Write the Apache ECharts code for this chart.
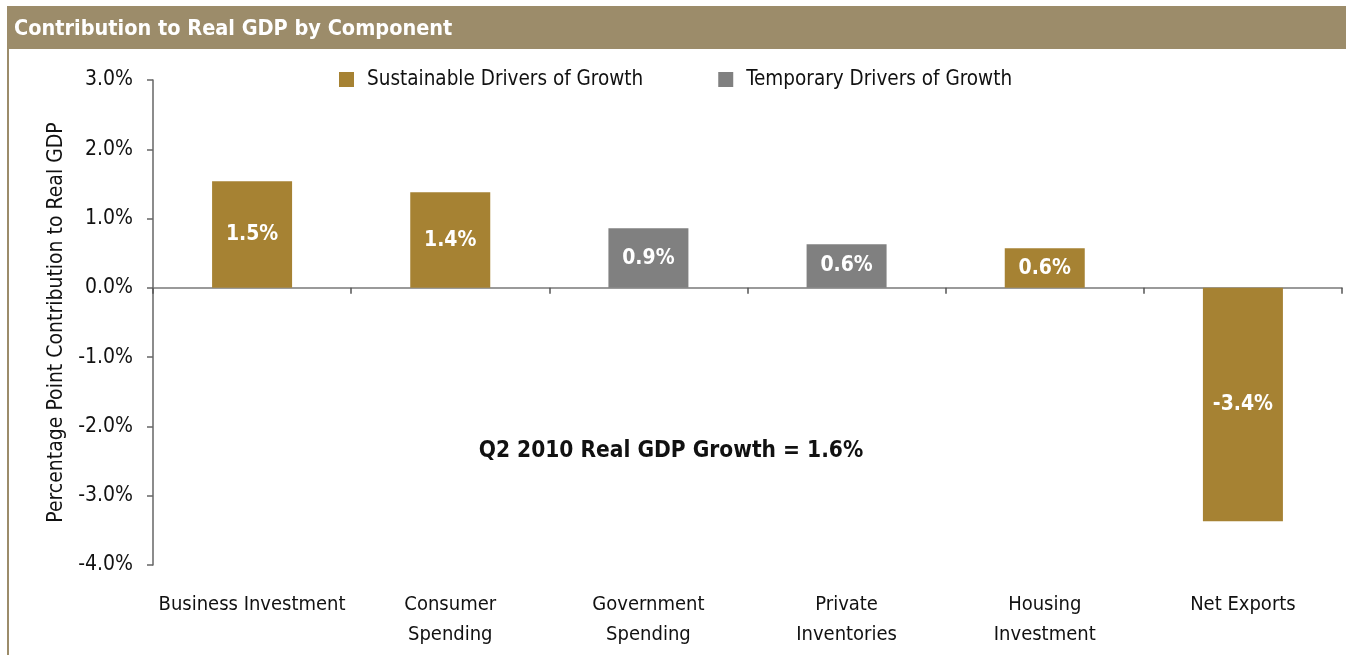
<!DOCTYPE html>
<html>
<head>
<meta charset="utf-8">
<title>Contribution to Real GDP by Component</title>
<script src="https://cdn.jsdelivr.net/npm/echarts@6/dist/echarts.min.js"></script>
<style>
  html, body { margin: 0; padding: 0; background: #fff; }
  #chart { width: 1346px; height: 655px; }
</style>
</head>
<body>
<div id="chart"></div>
<script>
// Components of Q2 2010 real GDP growth (percentage points)
const categories = ['Business Investment', 'Consumer\nSpending', 'Government\nSpending',
                    'Private\nInventories', 'Housing\nInvestment', 'Net Exports'];
const sustainable = [1.54, 1.38, null, null, 0.57, -3.37];
const temporary   = [null, null, 0.86, 0.63, null, null];
const yTicks = { min: -4, max: 3, interval: 1 };
const seriesNames = ['Sustainable Drivers of Growth', 'Temporary Drivers of Growth'];
const headline = 'Q2 2010 Real GDP Growth = 1.6%';
const titleText = 'Contribution to Real GDP by Component';

const FONT = "'Liberation Sans Narrow', 'DejaVu Sans Condensed', 'Arial Narrow', sans-serif";
const GOLD = '#a68233';
const GRAY = '#808080';
const TAN = '#9c8c6a';

const chart = echarts.init(document.getElementById('chart'), null, { renderer: 'canvas' });

const barLabel = {
  show: true,
  position: 'inside',
  color: '#fff',
  fontFamily: FONT,
  fontWeight: 'bold',
  fontSize: 21,
  formatter: p => p.value.toFixed(1) + '%'
};

chart.setOption({
  animation: false,
  textStyle: { fontFamily: FONT },
  grid: { left: 153, right: 4, top: 80, bottom: 90, containLabel: false },
  legend: {
    left: 334, top: 64,
    itemWidth: 15, itemHeight: 15, itemGap: 75,
    icon: 'rect',
    textStyle: { fontFamily: FONT, fontSize: 20.5, color: '#111', padding: [0, 0, 0, 8] },
    data: seriesNames
  },
  xAxis: [
    {
      type: 'category',
      data: categories,
      position: 'bottom',
      axisLine: { show: false, onZero: false },
      axisTick: { show: false },
      axisLabel: {
        interval: 0, margin: 25, color: '#111',
        fontFamily: FONT, fontSize: 20, lineHeight: 30
      }
    },
    {
      type: 'category',
      data: categories,
      position: 'bottom',
      axisLine: { show: true, onZero: true, onZeroAxisIndex: 0, lineStyle: { color: '#7a7a7a', width: 1.5 } },
      axisTick: { show: true, length: 6, lineStyle: { color: '#555', width: 1.5 } },
      axisLabel: { show: false },
      splitLine: { show: false }
    }
  ],
  yAxis: {
    type: 'value',
    min: yTicks.min, max: yTicks.max, interval: yTicks.interval,
    name: 'Percentage Point Contribution to Real GDP',
    nameLocation: 'middle',
    nameGap: 80,
    nameTextStyle: { fontFamily: FONT, fontSize: 21, color: '#111' },
    axisLine: { show: true, lineStyle: { color: '#666', width: 1.5 } },
    axisTick: { show: true, length: 6, lineStyle: { color: '#666', width: 1.5 } },
    splitLine: { show: false },
    axisLabel: {
      margin: 20, color: '#111', fontFamily: FONT, fontSize: 21,
      formatter: v => v.toFixed(1) + '%'
    }
  },
  series: [
    {
      name: seriesNames[0], type: 'bar', stack: 'gdp', xAxisIndex: 0,
      barWidth: 80, itemStyle: { color: GOLD }, label: barLabel,
      data: sustainable
    },
    {
      name: seriesNames[1], type: 'bar', stack: 'gdp', xAxisIndex: 0,
      barWidth: 80, itemStyle: { color: GRAY }, label: barLabel,
      data: temporary
    }
  ],
  graphic: [
    { type: 'rect', z: -1, shape: { x: 7, y: 6, width: 1339, height: 43 }, style: { fill: TAN } },
    { type: 'rect', z: -1, shape: { x: 7, y: 6, width: 2, height: 649 }, style: { fill: TAN } },
    {
      type: 'text', x: 14, y: 29,
      style: {
        text: titleText, fill: '#fff', fontFamily: FONT, fontWeight: 'bold',
        fontSize: 21.5, textVerticalAlign: 'middle'
      }
    },
    {
      type: 'text', x: 671, y: 451,
      style: {
        text: headline, fill: '#111', fontFamily: FONT, fontWeight: 'bold',
        fontSize: 22.5, textAlign: 'center', textVerticalAlign: 'middle'
      }
    }
  ]
});
</script>
</body>
</html>
